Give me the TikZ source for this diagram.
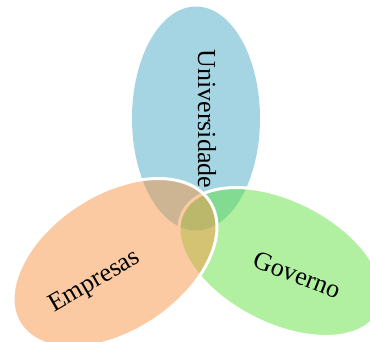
\documentclass[tikz,border=0pt]{standalone}
\usepackage{fontspec}
\setmainfont{Liberation Serif}
\definecolor{uniblue}{RGB}{75,172,198}
\definecolor{emporange}{RGB}{247,150,70}
\definecolor{govgreen}{RGB}{97,225,65}
\tikzset{
  venn/.style={fill opacity=0.5, draw opacity=1},
  vennborder/.style={venn, draw=white, line width=3pt},
  lbl/.style={font=\fontsize{26}{30}\selectfont, inner sep=0pt, text=black}
}
\begin{document}
\begin{tikzpicture}[x=1pt,y=1pt]
\useasboundingbox (0,0) rectangle (370,342);
% Universidade
\fill[venn, uniblue] (196,223.5) ellipse [x radius=64, y radius=112];
% Governo
\filldraw[vennborder, fill=govgreen] (281,80) ellipse [x radius=110, y radius=62, rotate=-27];
% Empresas
\filldraw[vennborder, fill=emporange] (115,79) ellipse [x radius=113, y radius=69, rotate=33];
\node[lbl, rotate=-90] (uni) at (207,223) {Universidade};
\node[lbl, rotate=30] (emp) at (95,60) {Empresas};
\node[lbl, rotate=-21] (gov) at (297,67) {Governo};
\end{tikzpicture}
\end{document}
